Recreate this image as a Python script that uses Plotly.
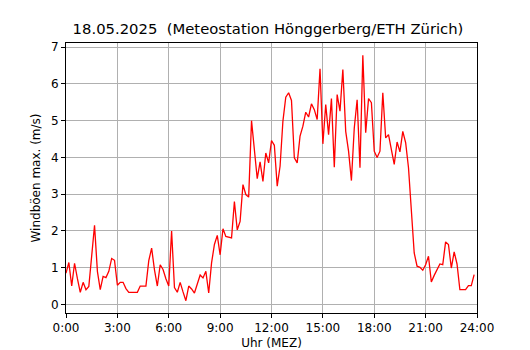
import plotly.graph_objects as go

# 10-minute wind gust maxima (m/s), 0:00 .. 23:50
gusts = [
    0.85, 1.14, 0.50, 1.12, 0.70, 0.33, 0.60, 0.40, 0.49, 1.30,
    2.15, 0.90, 0.40, 0.76, 0.73, 0.90, 1.25, 1.20, 0.52, 0.60,
    0.60, 0.43, 0.33, 0.33, 0.33, 0.33, 0.50, 0.50, 0.50, 1.19,
    1.53, 0.94, 0.50, 1.08, 0.95, 0.70, 0.50, 2.00, 0.46, 0.33,
    0.60, 0.34, 0.10, 0.50, 0.42, 0.31, 0.55, 0.80, 0.72, 0.90,
    0.31, 1.13, 1.63, 1.88, 1.35, 2.06, 1.85, 1.82, 1.81, 2.80,
    2.03, 2.26, 3.26, 2.99, 2.92, 5.00, 4.17, 3.42, 3.88, 3.35,
    4.12, 3.85, 4.46, 4.33, 3.22, 3.76, 4.99, 5.64, 5.76, 5.55,
    3.99, 3.85, 4.58, 4.85, 5.23, 5.10, 5.46, 5.30, 5.03, 6.41,
    4.37, 5.44, 4.62, 5.60, 3.73, 5.71, 5.26, 6.39, 4.71, 4.17,
    3.37, 4.80, 5.57, 3.72, 6.78, 4.67, 5.60, 5.49, 4.17, 4.00,
    4.17, 5.76, 4.53, 4.62, 4.21, 3.81, 4.42, 4.15, 4.71, 4.40,
    3.72, 2.44, 1.40, 1.04, 1.01, 0.93, 1.08, 1.31, 0.61, 0.79,
    0.97, 1.10, 1.08, 1.70, 1.63, 0.99, 1.43, 1.10, 0.40, 0.40,
    0.40, 0.51, 0.51, 0.81,
]
hours = [i / 6 for i in range(len(gusts))]

x_tick_vals = [0, 3, 6, 9, 12, 15, 18, 21, 24]
x_tick_text = ["0:00", "3:00", "6:00", "9:00", "12:00", "15:00", "18:00", "21:00", "24:00"]
y_tick_vals = [0, 1, 2, 3, 4, 5, 6, 7]

title_text = "18.05.2025  (Meteostation Hönggerberg/ETH Zürich)"
x_title = "Uhr (MEZ)"
y_title = "Windböen max. (m/s)"

lo, hi = min(gusts), max(gusts)
pad = 0.05 * (hi - lo)

fig = go.Figure()
fig.add_trace(go.Scatter(x=hours, y=gusts, mode="lines",
                         line=dict(color="#ff0000", width=1.3),
                         showlegend=False, hoverinfo="skip"))

font = dict(family="DejaVu Sans", size=12, color="black")
axis_common = dict(showline=True, linecolor="black", linewidth=1, mirror=True,
                   ticks="outside", ticklen=4, tickwidth=1, tickcolor="black",
                   showgrid=True, gridcolor="#b0b0b0", gridwidth=1,
                   zeroline=False, tickfont=font, automargin=False)

fig.update_layout(
    width=530, height=350,
    paper_bgcolor="white", plot_bgcolor="white",
    margin=dict(l=66, r=53, t=43, b=37, autoexpand=False),
    font=font,
    title=dict(text=title_text, x=268 / 530, xanchor="center",
               y=1 - 29 / 350, yanchor="middle",
               font=dict(family="DejaVu Sans", size=14.8, color="black")),
    xaxis=dict(range=[0, 24], tickvals=x_tick_vals, ticktext=x_tick_text,
               title=dict(text=x_title, standoff=4, font=font), **axis_common),
    yaxis=dict(range=[lo - pad, hi + pad], tickvals=y_tick_vals,
               title=dict(text=y_title, standoff=7, font=font), **axis_common),
)

fig.write_html("out.html", config={"displayModeBar": False},
               post_script="document.body.style.margin='0';document.body.style.padding='0';")
